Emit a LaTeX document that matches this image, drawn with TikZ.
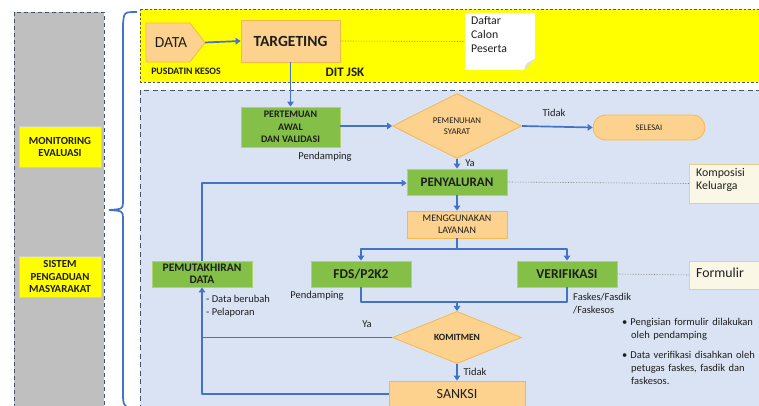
\documentclass[tikz,border=0pt]{standalone}
\usepackage{fontspec}
\setmainfont{Carlito}
\usetikzlibrary{shapes.geometric,arrows.meta,calc}
\definecolor{cgreen}{HTML}{84C047}
\definecolor{gborder}{HTML}{B3D36A}
\definecolor{cpeach}{HTML}{FCD28E}
\definecolor{pborder}{HTML}{F4B94E}
\definecolor{cyellow}{HTML}{FFFF00}
\definecolor{cbluebg}{HTML}{DAE3F3}
\definecolor{cgray}{HTML}{BFBFBF}
\definecolor{cblue}{HTML}{4472C4}
\definecolor{dashb}{HTML}{44546A}
\definecolor{notefill}{HTML}{FBF7E6}
\definecolor{noteborder}{HTML}{E2D28C}
\definecolor{ctext}{HTML}{1E1E1E}
\newcommand{\myfs}[2]{\fontsize{#1}{#2}\selectfont}
\begin{document}
\begin{tikzpicture}[x=1pt,y=-1pt,
  box/.style={draw, line width=0.8pt, inner sep=0pt, align=center, text=ctext},
  greenbox/.style={box, draw=gborder, fill=cgreen, font=\bfseries},
  peachbox/.style={box, draw=pborder, fill=cpeach},
  conn/.style={draw=cblue, line width=1.7pt, line join=round, -{Triangle[length=5pt,width=6.5pt]}},
  plainline/.style={draw=cblue, line width=1.7pt, line join=round},
  dotline/.style={draw=gray, line width=0.6pt, densely dotted},
  lbl/.style={inner sep=0pt, text=ctext, font=\myfs{10.5}{13}},
  ybox/.style={fill=cyellow, draw=cgray!80, line width=0.5pt, inner sep=0pt, align=center, font=\bfseries\myfs{10.8}{12.5}, text=ctext}
]
\useasboundingbox (0,0) rectangle (759,406);
\clip (0,0) rectangle (759,406);
\fill[white] (0,0) rectangle (759,406);

% left gray column
\draw[fill=cgray, draw=dashb, line width=0.9pt, dash pattern=on 4pt off 3pt] (14,12) rectangle (104,412);
\node[ybox, minimum width=82, minimum height=41] (monev) at (60,147) {MONITORING\\EVALUASI};
\node[ybox, minimum width=82, minimum height=41] (spm) at (60,276.5) {SISTEM\\PENGADUAN\\MASYARAKAT};

% brace
\draw[cblue, line width=1.7pt] (137,12) .. controls (124,12) .. (123,24) -- (123,203) .. controls (122.5,209) .. (109,210);
\draw[cblue, line width=1.7pt] (109,210) .. controls (122.5,211) .. (123,217) -- (123,398) .. controls (124,407) .. (137,408);

% bands
\draw[fill=cyellow, draw=gray!70!black, line width=0.6pt, dash pattern=on 2.5pt off 2pt] (140,9) rectangle (775,82);
\draw[fill=cbluebg, draw=dashb, line width=0.9pt, dash pattern=on 5pt off 3.5pt] (140,90) rectangle (775,420);

% DATA
\draw[fill=cpeach, draw=pborder, line width=0.8pt] (146,23) -- (190,23) -- (205,42.5) -- (190,62) -- (146,62) -- cycle;
\coordinate (datatip) at (205,42.5);
\node[inner sep=0pt, text=ctext, font=\myfs{15.5}{18}] (data) at (171,42.5) {DATA};
\node[peachbox, minimum width=99, minimum height=42, font=\bfseries\myfs{15.5}{18}] (targeting) at (290.5,41) {TARGETING};
\node[inner sep=0pt, font=\bfseries\myfs{9.8}{11}, text=ctext] (pusdatin) at (186,71) {PUSDATIN KESOS};
\node[inner sep=0pt, font=\bfseries\myfs{13}{15}, text=ctext] (ditjsk) at (345,72) {DIT JSK};

% note Daftar
\draw[fill=white, draw=gray!30, line width=0.4pt] (465,13) -- (535,13) -- (535,59) -- (524,70) -- (465,70) -- cycle;
\fill[gray!25] (535,59) -- (524,70) .. controls (526,63) .. (535,59);
\coordinate (daftarw) at (465,41.5);
\node[inner sep=0pt, anchor=north west, align=left, text=ctext, font=\myfs{11.8}{14}] (daftar) at (471,16) {Daftar\\Calon\\Peserta};

\draw[conn] (datatip) -- (targeting.west);
\draw[dotline] (targeting.east) -- (daftarw);

% main flow
\node[greenbox, minimum width=99, minimum height=40, font=\bfseries\myfs{10}{12.5}] (pertemuan) at (290.5,127) {PERTEMUAN\\AWAL\\DAN VALIDASI};
\node[diamond, draw=pborder, fill=cpeach, line width=0.8pt, minimum width=129, minimum height=63, inner sep=0pt, align=center, text=ctext, font=\myfs{8.8}{11}] (pemenuhan) at (457,126) {PEMENUHAN\\SYARAT};
\node[rounded corners=12.5pt, draw=pborder, fill=cpeach, line width=0.8pt, minimum width=112, minimum height=25, inner sep=0pt, text=ctext, font=\myfs{8.5}{10}] (selesai) at (649,127.5) {SELESAI};
\node[greenbox, minimum width=100, minimum height=26, font=\bfseries\myfs{13}{15}] (penyaluran) at (457,182) {PENYALURAN};
\node[peachbox, minimum width=100, minimum height=27, font=\myfs{10}{12.5}] (menggunakan) at (457,224.5) {MENGGUNAKAN\\LAYANAN};
\node[greenbox, minimum width=100, minimum height=26, font=\bfseries\myfs{13.5}{15}] (fds) at (361,274) {FDS/P2K2};
\node[greenbox, minimum width=100, minimum height=26, font=\bfseries\myfs{13.5}{15}] (verif) at (567,274) {VERIFIKASI};
\node[greenbox, minimum width=100, minimum height=26, font=\bfseries\myfs{11.5}{12.5}] (pemut) at (202,274) {PEMUTAKHIRAN\\DATA};
\node[diamond, draw=pborder, fill=cpeach, line width=0.8pt, minimum width=129, minimum height=41, inner sep=0pt, text=ctext, font=\bfseries\myfs{9.5}{11}] (komitmen) at (457,337.5) {KOMITMEN};
\node[peachbox, minimum width=136, minimum height=26, font=\myfs{14}{16}] (sanksi) at (457,394) {SANKSI};

% notes right
\draw[fill=notefill, draw=noteborder, line width=0.8pt] (689,164) -- (775,164) -- (775,203) -- (689,203) -- cycle;
\coordinate (kompw) at (689,183.5);
\node[inner sep=0pt, anchor=north west, align=left, text=ctext, font=\myfs{11.8}{13}] (komposisi) at (696,168) {Komposisi\\Keluarga};
\draw[fill=notefill, draw=noteborder, line width=0.8pt] (689,261) -- (775,261) -- (775,289) -- (689,289) -- cycle;
\coordinate (formw) at (689,275);
\node[inner sep=0pt, anchor=west, text=ctext, font=\myfs{13.8}{16}] (formulir) at (696,273) {Formulir};

% connectors
\draw[conn] (targeting.south) -- (pertemuan.north);
\draw[conn] (pertemuan.east |- pemenuhan.west) -- (pemenuhan.west);
\draw[conn] (pemenuhan.east) -- (selesai.west);
\draw[conn] (pemenuhan.south) -- (penyaluran.north);
\draw[dotline] (penyaluran.east) -- (kompw);
\draw[conn] (penyaluran.south) -- (menggunakan.north);
\draw[plainline] (menggunakan.south) -- ++(0,10.5) coordinate (split);
\draw[conn] (split) -| (fds.north);
\draw[conn] (split) -| (verif.north);
\draw[dotline] (verif.east) -- (formw);
\coordinate (merge) at (457,302);
\draw[plainline] (fds.south) |- (merge) -| (verif.south);
\draw[conn] (merge) -- (komitmen.north);
\draw[conn] (komitmen.south) -- (sanksi.north);
\draw[plainline] (komitmen.west) -- (komitmen.west -| pemut.south);
\draw[conn] (sanksi.west) -| (pemut.south);
\draw[conn] (pemut.north) |- ([yshift=-1pt]penyaluran.west);

% labels
\node[lbl] (pend1) at (325,157) {Pendamping};
\node[lbl, font=\myfs{10.5}{12}] (tidak1) at (554,113) {Tidak};
\node[lbl, font=\myfs{10.5}{12}] (ya1) at (470,163) {Ya};
\node[lbl] (pend2) at (317,296) {Pendamping};
\node[lbl, anchor=west, align=left] (databerubah) at (206,306) {- Data berubah\\- Pelaporan};
\node[lbl, anchor=west, align=left] (faskes) at (573,304) {Faskes/Fasdik\\/Faskesos};
\node[lbl, font=\myfs{10.5}{12}] (ya2) at (367,324) {Ya};
\node[lbl, font=\myfs{10.5}{12}] (tidak2) at (475,372) {Tidak};
\node[lbl, anchor=north west, align=left, text width=140] (bullets) at (622,318) {%
\textbullet\hspace{3pt}Pengisian formulir dilakukan\\\hspace*{9pt}oleh pendamping\\[7pt]
\textbullet\hspace{3pt}Data verifikasi disahkan oleh\\\hspace*{9pt}petugas faskes, fasdik dan\\\hspace*{9pt}faskesos.};
\end{tikzpicture}
\end{document}
